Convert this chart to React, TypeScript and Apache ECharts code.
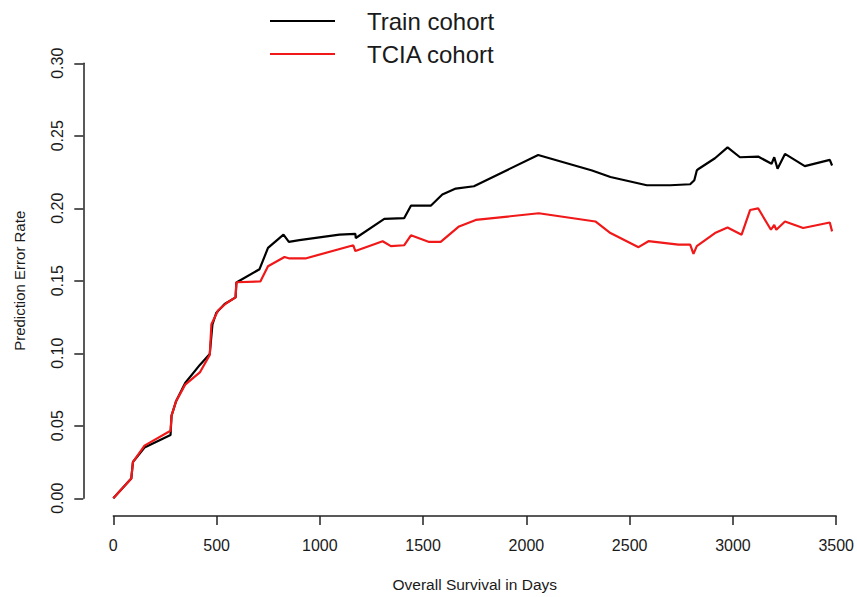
import React, { useEffect, useRef } from "react";
import * as echarts from "echarts";

const seriesNames = ["Train cohort", "TCIA cohort"];

const trainDays = [
  0, 87, 95, 151, 277, 282, 304, 348, 419, 467, 480, 499, 539, 592, 596, 708, 749, 824, 850, 901,
  1095, 1172, 1174, 1312, 1408, 1441, 1537, 1593, 1658, 1746, 2057, 2318, 2407, 2583, 2696, 2793,
  2813, 2825, 2835, 2913, 2974, 3034, 3122, 3187, 3200, 3216, 3252, 3348, 3469, 3480,
];
const trainError = [
  0, 0.0136, 0.025, 0.035, 0.0436, 0.057, 0.067, 0.0795, 0.092, 0.0995, 0.12, 0.128, 0.134, 0.1386,
  0.1488, 0.158, 0.1727, 0.1818, 0.1768, 0.178, 0.1818, 0.1823, 0.1795, 0.1927, 0.1932, 0.2018,
  0.2018, 0.2095, 0.2136, 0.2152, 0.2368, 0.2261, 0.2216, 0.2159, 0.2159, 0.2166, 0.2193, 0.2261,
  0.2273, 0.2345, 0.242, 0.2352, 0.2357, 0.2307, 0.2352, 0.2273, 0.2375, 0.2291, 0.2334, 0.2295,
];

const tciaDays = [
  0, 87, 95, 151, 277, 282, 304, 348, 419, 467, 475, 507, 547, 592, 596, 712, 749, 829, 853, 930,
  1162, 1172, 1304, 1344, 1408, 1441, 1529, 1585, 1674, 1755, 2060, 2334, 2407, 2543, 2591, 2736,
  2793, 2809, 2825, 2913, 2974, 3042, 3083, 3122, 3184, 3200, 3210, 3252, 3340, 3469, 3480,
];
const tciaError = [
  0, 0.0136, 0.025, 0.0363, 0.0466, 0.057, 0.067, 0.0784, 0.0868, 0.0989, 0.12, 0.1295, 0.1345,
  0.1386, 0.149, 0.1495, 0.16, 0.1664, 0.1654, 0.1654, 0.1745, 0.1705, 0.1773, 0.1739, 0.1745,
  0.1814, 0.1768, 0.1768, 0.1875, 0.192, 0.1966, 0.1909, 0.1829, 0.1732, 0.1773, 0.175, 0.175,
  0.1686, 0.1739, 0.1829, 0.1868, 0.1818, 0.1988, 0.2, 0.1852, 0.1886, 0.1852, 0.1909, 0.1864,
  0.1902, 0.1841,
];

const xMin = 0;
const xMax = 3500;
const xStep = 500;
const yMin = 0;
const yMax = 0.3;
const yStep = 0.05;

const FONT = "'Liberation Sans', Arial, sans-serif";
const INK = "#1a1a1a";

export default function App() {
  const ref = useRef<HTMLDivElement>(null);

  useEffect(() => {
    if (!ref.current) return;
    const chart = echarts.init(ref.current, null, { renderer: "svg" });
    const pairs = (xs: number[], ys: number[]) => xs.map((x, i) => [x, ys[i]]);
    chart.setOption({
      animation: false,
      backgroundColor: "#ffffff",
      textStyle: { fontFamily: FONT },
      grid: { left: 113.3, right: 19, top: 63.3, bottom: 93.7, containLabel: false },
      legend: {
        data: seriesNames,
        orient: "vertical",
        left: 269,
        top: 7,
        padding: 0,
        itemWidth: 65,
        itemHeight: 24,
        itemGap: 5,
        itemStyle: { opacity: 0 },
        textStyle: {
          fontFamily: FONT,
          fontSize: 24,
          lineHeight: 24,
          color: INK,
          padding: [4, 0, 0, 27],
        },
      },
      xAxis: {
        type: "value",
        min: xMin,
        max: xMax,
        interval: xStep,
        offset: 17.7,
        splitLine: { show: false },
        axisLine: { show: true, onZero: false, lineStyle: { color: "#222", width: 1.5 } },
        axisTick: { show: true, inside: false, length: 9, lineStyle: { color: "#222", width: 1.5 } },
        axisLabel: {
          margin: 21,
          fontSize: 16,
          color: INK,
          fontFamily: FONT,
          formatter: (v: number) => String(v),
        },
        name: "Overall Survival in Days",
        nameLocation: "middle",
        nameGap: 60,
        nameTextStyle: { fontSize: 15.5, color: INK, fontFamily: FONT },
      },
      yAxis: {
        type: "value",
        min: yMin,
        max: yMax,
        interval: yStep,
        offset: 30,
        splitLine: { show: false },
        axisLine: { show: true, onZero: false, lineStyle: { color: "#222", width: 1.5 } },
        axisTick: { show: true, inside: false, length: 9, lineStyle: { color: "#222", width: 1.5 } },
        axisLabel: {
          rotate: 90,
          margin: 18,
          fontSize: 16,
          color: INK,
          fontFamily: FONT,
          formatter: (v: number) => v.toFixed(2),
        },
        name: "Prediction Error Rate",
        nameLocation: "middle",
        nameGap: 56,
        nameTextStyle: { fontSize: 15, color: INK, fontFamily: FONT },
      },
      series: [
        {
          name: seriesNames[0],
          type: "line",
          data: pairs(trainDays, trainError),
          symbol: "none",
          lineStyle: { color: "#000000", width: 2.2 },
          itemStyle: { color: "#000000" },
          z: 2,
        },
        {
          name: seriesNames[1],
          type: "line",
          data: pairs(tciaDays, tciaError),
          symbol: "none",
          lineStyle: { color: "#f01818", width: 2.2 },
          itemStyle: { color: "#f01818" },
          z: 3,
        },
      ],
    });
    return () => chart.dispose();
  }, []);

  return (
    <div
      ref={ref}
      style={{ position: "fixed", left: 0, top: 0, width: 857, height: 597, background: "#fff" }}
    />
  );
}
